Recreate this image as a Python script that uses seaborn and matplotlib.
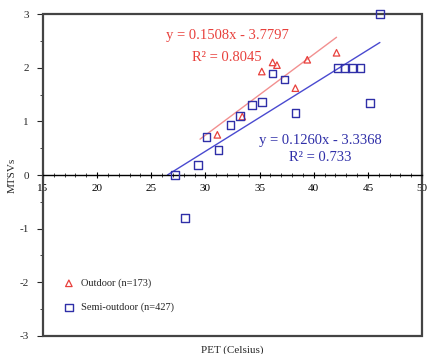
import numpy as np
import pandas as pd
import matplotlib
matplotlib.use("Agg")
import matplotlib.pyplot as plt
from matplotlib.patches import Rectangle
import seaborn as sns

# data
outdoor_x = [31.1, 33.4, 35.2, 36.2, 36.6, 38.3, 39.4, 42.1]
outdoor_y = [0.75, 1.09, 1.93, 2.10, 2.05, 1.62, 2.15, 2.28]

semi_x = [27.2, 28.1, 29.3, 30.1, 31.2, 32.3, 33.2, 34.3, 35.2, 36.2, 37.3,
          38.3, 42.2, 42.9, 43.5, 44.3, 45.2, 46.1]
semi_y = [0.00, -0.80, 0.19, 0.71, 0.47, 0.93, 1.10, 1.31, 1.36, 1.89, 1.78,
          1.16, 2.00, 2.00, 2.00, 2.00, 1.34, 3.00]

# regression coefficients and the x span of each fitted line
outdoor_fit = (0.1508, -3.7797)
semi_fit = (0.1260, -3.3368)
outdoor_span = [29.5, 42.1]
semi_span = [26.5, 46.1]

x_ticks = [15, 20, 25, 30, 35, 40, 45, 50]
y_ticks = [-3, -2, -1, 0, 1, 2, 3]

red = "#e8403c"
blue = "#2f2fa8"

sns.set_theme(style="white")
plt.rcParams["font.family"] = ["Liberation Serif", "DejaVu Serif"]
plt.rcParams["axes.unicode_minus"] = False

df_out = pd.DataFrame({"PET": outdoor_x, "MTSV": outdoor_y})
df_semi = pd.DataFrame({"PET": semi_x, "MTSV": semi_y})

fig = plt.figure(figsize=(4.29, 3.54), dpi=100)
ax = fig.add_axes([0.1, 0.051, 0.884, 0.909])

# fitted lines
for (slope, icpt), span, c in [(outdoor_fit, outdoor_span, "#f29090"),
                               (semi_fit, semi_span, "#4a4ad0")]:
    lx = np.array(span)
    ax.plot(lx, slope * lx + icpt, color=c, lw=1.0, zorder=2)

sns.scatterplot(data=df_out, x="PET", y="MTSV", ax=ax, marker="^", s=22,
                facecolor="none", edgecolor=red, linewidth=0.9,
                label="Outdoor (n=173)", zorder=3, clip_on=False)
sns.scatterplot(data=df_semi, x="PET", y="MTSV", ax=ax, marker="s", s=30,
                facecolor="none", edgecolor=blue, linewidth=1.0,
                label="Semi-outdoor (n=427)", zorder=3, clip_on=False)

ax.set_xlim(15, 50)
ax.set_ylim(-3, 3)

# x axis crosses at y = 0, frame drawn around
for s in ["top", "right", "left"]:
    ax.spines[s].set_visible(False)
ax.spines["bottom"].set_position(("data", 0))
ax.spines["bottom"].set_color("black")
ax.spines["bottom"].set_linewidth(1.0)
ax.add_patch(Rectangle((0, 0), 1, 1, transform=ax.transAxes, fill=False,
                       edgecolor="#444444", lw=1.6, zorder=1, clip_on=False))

ax.set_xticks(x_ticks)
ax.set_xticks(np.arange(15, 51, 1), minor=True)
ax.set_yticks(y_ticks)
ax.set_yticks(np.arange(-3, 3.01, 0.5), minor=True)
ax.tick_params(axis="x", which="major", direction="inout", length=5, width=0.8,
               bottom=True, labelsize=8, pad=4, colors="black")
ax.tick_params(axis="x", which="minor", direction="inout", length=3, width=0.6,
               bottom=True)
ax.tick_params(axis="y", which="major", direction="out", length=4, width=0.8,
               left=True, labelsize=8, pad=6)
ax.tick_params(axis="y", which="minor", direction="out", length=2, width=0.6,
               left=True)

ax.set_xlabel("")
ax.set_ylabel("MTSVs", fontsize=8, labelpad=2)
ax.text(0.5, -0.045, "PET (Celsius)", transform=ax.transAxes, ha="center",
        va="center", fontsize=8)

# equations
ax.text(32.0, 2.6, "y = 0.1508x - 3.7797", color=red, fontsize=10.5,
        ha="center", va="center")
ax.text(32.0, 2.2, "R² = 0.8045", color=red, fontsize=10.5, ha="center",
        va="center")
ax.text(40.6, 0.65, "y = 0.1260x - 3.3368", color=blue, fontsize=10.5,
        ha="center", va="center")
ax.text(40.6, 0.33, "R² = 0.733", color=blue, fontsize=10.5, ha="center",
        va="center")

ax.legend(loc="lower left", bbox_to_anchor=(0.03, 0.06), frameon=False,
          fontsize=7.5, handletextpad=0.2, labelspacing=1.4, borderaxespad=0)

fig.savefig("out.png", dpi=100)
